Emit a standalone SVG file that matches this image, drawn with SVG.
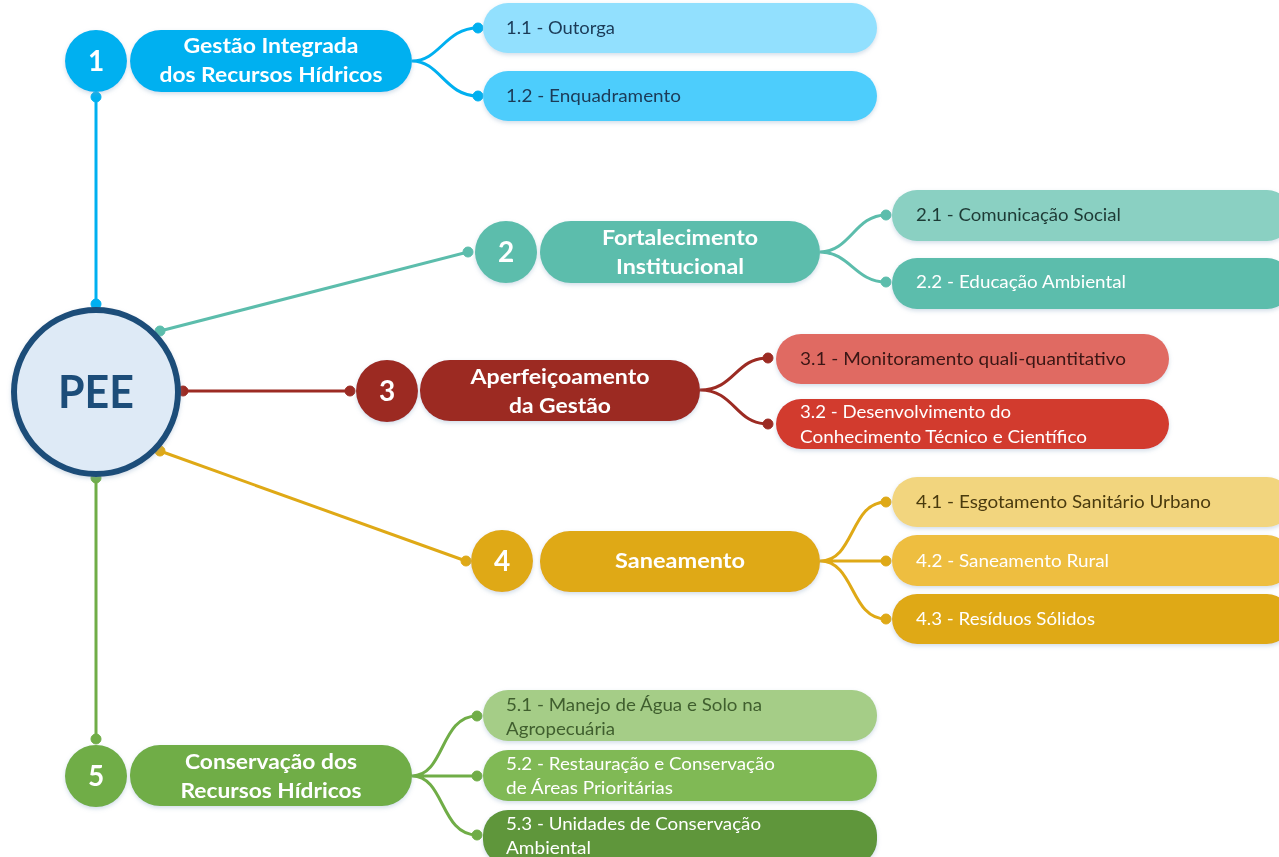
<svg xmlns="http://www.w3.org/2000/svg" width="1279" height="857" viewBox="0 0 1279 857">
<defs>
<filter id="sh" x="-10%" y="-20%" width="120%" height="150%">
<feDropShadow dx="0" dy="2" stdDeviation="2" flood-color="#7f9fbf" flood-opacity="0.35"/>
</filter>
</defs>
<style>
text{font-family:Lato,"Open Sans","Liberation Sans",sans-serif}
.t{font-weight:bold;font-size:20px;fill:#fff;text-anchor:middle}
.n{font-weight:bold;font-size:28px;fill:#fff;text-anchor:middle}
.s{font-size:17px}
.w{fill:#fff}
.c{fill:none;stroke-width:3}
</style>
<rect width="1279" height="857" fill="#fff"/>
<g id="connectors">
<g stroke="#00B0F0" fill="#00B0F0">
<line class="c" x1="96" y1="97" x2="96" y2="304"/>
<circle cx="96" cy="97" r="5"/><circle cx="96" cy="304" r="5"/>
<path class="c" d="M412,61 C440,61 445,28 478,28 M412,61 C440,61 445,96 478,96"/>
<circle cx="478" cy="28" r="5"/><circle cx="478" cy="96" r="5"/>
</g>
<g stroke="#5CBDAC" fill="#5CBDAC">
<line class="c" x1="160" y1="331" x2="468" y2="252"/>
<circle cx="160" cy="331" r="5"/><circle cx="468" cy="252" r="5"/>
<path class="c" d="M820,252 C850,252 855,215 886,215 M820,252 C850,252 855,282 886,282"/>
<circle cx="886" cy="215" r="5"/><circle cx="886" cy="282" r="5"/>
</g>
<g stroke="#9C2B23" fill="#9C2B23">
<line class="c" x1="183" y1="391" x2="350" y2="391"/>
<circle cx="183" cy="391" r="5"/><circle cx="350" cy="391" r="5"/>
<path class="c" d="M700,390 C735,390 735,358 768,358 M700,390 C735,390 735,424 768,424"/>
<circle cx="768" cy="358" r="5"/><circle cx="768" cy="424" r="5"/>
</g>
<g stroke="#DFA916" fill="#DFA916">
<line class="c" x1="160" y1="451" x2="466" y2="561"/>
<circle cx="160" cy="451" r="5"/><circle cx="466" cy="561" r="5"/>
<path class="c" d="M820,561 C855,561 850,502 886,502 M820,561 L886,561 M820,561 C855,561 850,619 886,619"/>
<circle cx="886" cy="502" r="5"/><circle cx="886" cy="561" r="5"/><circle cx="886" cy="619" r="5"/>
</g>
<g stroke="#70AD47" fill="#70AD47">
<line class="c" x1="96" y1="478" x2="96" y2="739"/>
<circle cx="96" cy="478" r="5"/><circle cx="96" cy="739" r="5"/>
<path class="c" d="M412,776 C445,776 440,716 477,716 M412,776 L477,776 M412,776 C445,776 440,835 477,835"/>
<circle cx="477" cy="716" r="5"/><circle cx="477" cy="776" r="5"/><circle cx="477" cy="835" r="5"/>
</g>
</g>
<g id="pee" filter="url(#sh)">
<circle cx="96" cy="392" r="82" fill="#DEEAF6" stroke="#1F4E79" stroke-width="6"/>
<text x="96" y="408" font-size="46" font-weight="bold" fill="#1F4E79" text-anchor="middle" textLength="76" lengthAdjust="spacingAndGlyphs">PEE</text>
</g>
<g id="n1" filter="url(#sh)">
<circle cx="96" cy="61" r="31" fill="#00B0F0"/>
<text class="n" x="96" y="71">1</text>
<rect x="130" y="30" width="282" height="62" rx="31" fill="#00B0F0"/>
<text class="t" x="271" y="53" textLength="175" lengthAdjust="spacingAndGlyphs">Gestão Integrada</text>
<text class="t" x="271" y="82" textLength="223" lengthAdjust="spacingAndGlyphs">dos Recursos Hídricos</text>
</g>
<g id="n11" filter="url(#sh)">
<rect x="483" y="3" width="394" height="50" rx="25" fill="#92E0FE"/>
<text class="s" x="506" y="34" fill="#1B3A57" textLength="109" lengthAdjust="spacingAndGlyphs">1.1 - Outorga</text>
</g>
<g id="n12" filter="url(#sh)">
<rect x="483" y="71" width="394" height="50" rx="25" fill="#4ECDFC"/>
<text class="s" x="506" y="102" fill="#1B3A57" textLength="175" lengthAdjust="spacingAndGlyphs">1.2 - Enquadramento</text>
</g>
<g id="n2" filter="url(#sh)">
<circle cx="506" cy="252" r="31" fill="#5CBDAC"/>
<text class="n" x="506" y="262">2</text>
<rect x="540" y="221" width="280" height="62" rx="31" fill="#5CBDAC"/>
<text class="t" x="680" y="245" textLength="156" lengthAdjust="spacingAndGlyphs">Fortalecimento</text>
<text class="t" x="680" y="274" textLength="128" lengthAdjust="spacingAndGlyphs">Institucional</text>
</g>
<g id="n21" filter="url(#sh)">
<rect x="892" y="190" width="400" height="51" rx="25" fill="#8AD0C2"/>
<text class="s" x="916" y="221" fill="#1F3A36" textLength="205" lengthAdjust="spacingAndGlyphs">2.1 - Comunicação Social</text>
</g>
<g id="n22" filter="url(#sh)">
<rect x="892" y="258" width="400" height="51" rx="25" fill="#5CBDAC"/>
<text class="s w" x="916" y="288" textLength="210" lengthAdjust="spacingAndGlyphs">2.2 - Educação Ambiental</text>
</g>
<g id="n3" filter="url(#sh)">
<circle cx="387" cy="391" r="31" fill="#9C2B23"/>
<text class="n" x="387" y="401">3</text>
<rect x="420" y="360" width="280" height="61" rx="30" fill="#9C2B23"/>
<text class="t" x="560" y="384" textLength="179" lengthAdjust="spacingAndGlyphs">Aperfeiçoamento</text>
<text class="t" x="560" y="413" textLength="102" lengthAdjust="spacingAndGlyphs">da Gestão</text>
</g>
<g id="n31" filter="url(#sh)">
<rect x="776" y="334" width="393" height="50" rx="25" fill="#E06B62"/>
<text class="s" x="800" y="365" fill="#3A1614" textLength="326" lengthAdjust="spacingAndGlyphs">3.1 - Monitoramento quali-quantitativo</text>
</g>
<g id="n32" filter="url(#sh)">
<rect x="776" y="399" width="393" height="50" rx="25" fill="#D23A2F"/>
<text class="s w" x="800" y="418" textLength="211" lengthAdjust="spacingAndGlyphs">3.2 - Desenvolvimento do</text>
<text class="s w" x="800" y="443" textLength="287" lengthAdjust="spacingAndGlyphs">Conhecimento Técnico e Científico</text>
</g>
<g id="n4" filter="url(#sh)">
<circle cx="502" cy="561" r="31" fill="#DFA916"/>
<text class="n" x="502" y="571">4</text>
<rect x="540" y="531" width="280" height="61" rx="30" fill="#DFA916"/>
<text class="t" x="680" y="568" textLength="130" lengthAdjust="spacingAndGlyphs">Saneamento</text>
</g>
<g id="n41" filter="url(#sh)">
<rect x="892" y="477" width="400" height="50" rx="25" fill="#F2D57E"/>
<text class="s" x="916" y="508" fill="#4A3A10" textLength="295" lengthAdjust="spacingAndGlyphs">4.1 - Esgotamento Sanitário Urbano</text>
</g>
<g id="n42" filter="url(#sh)">
<rect x="892" y="535" width="400" height="51" rx="25" fill="#EEBE41"/>
<text class="s w" x="916" y="567" textLength="193" lengthAdjust="spacingAndGlyphs">4.2 - Saneamento Rural</text>
</g>
<g id="n43" filter="url(#sh)">
<rect x="892" y="594" width="400" height="50" rx="25" fill="#DFA916"/>
<text class="s w" x="916" y="625" textLength="179" lengthAdjust="spacingAndGlyphs">4.3 - Resíduos Sólidos</text>
</g>
<g id="n5" filter="url(#sh)">
<circle cx="96" cy="776" r="31" fill="#70AD47"/>
<text class="n" x="96" y="786">5</text>
<rect x="130" y="745" width="282" height="61" rx="30" fill="#70AD47"/>
<text class="t" x="271" y="769" textLength="172" lengthAdjust="spacingAndGlyphs">Conservação dos</text>
<text class="t" x="271" y="798" textLength="181" lengthAdjust="spacingAndGlyphs">Recursos Hídricos</text>
</g>
<g id="n51" filter="url(#sh)">
<rect x="483" y="690" width="394" height="51" rx="25" fill="#A5CD87"/>
<text class="s" x="506" y="711" fill="#3F5E2E" textLength="256" lengthAdjust="spacingAndGlyphs">5.1 - Manejo de Água e Solo na</text>
<text class="s" x="506" y="735" fill="#3F5E2E" textLength="109" lengthAdjust="spacingAndGlyphs">Agropecuária</text>
</g>
<g id="n52" filter="url(#sh)">
<rect x="483" y="750" width="394" height="51" rx="25" fill="#80B954"/>
<text class="s w" x="506" y="770" textLength="269" lengthAdjust="spacingAndGlyphs">5.2 - Restauração e Conservação</text>
<text class="s w" x="506" y="794" textLength="167" lengthAdjust="spacingAndGlyphs">de Áreas Prioritárias</text>
</g>
<g id="n53" filter="url(#sh)">
<rect x="483" y="810" width="394" height="55" rx="25" fill="#5E963A"/>
<text class="s w" x="506" y="830" textLength="255" lengthAdjust="spacingAndGlyphs">5.3 - Unidades de Conservação</text>
<text class="s w" x="506" y="854" textLength="85" lengthAdjust="spacingAndGlyphs">Ambiental</text>
</g>
</svg>
